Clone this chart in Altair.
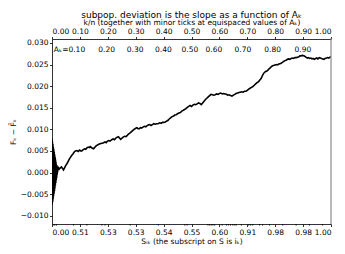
import altair as alt
import pandas as pd

# ---- data ----
kn = [0.000, 0.0008, 0.0016, 0.0024, 0.0032, 0.004, 0.0048, 0.0056, 0.0064, 0.0072,
      0.008, 0.0088, 0.0096, 0.0104, 0.0112, 0.012, 0.0128, 0.0136, 0.0144, 0.0152,
      0.016, 0.0168, 0.0176, 0.0184, 0.0192, 0.020,
      0.022, 0.026, 0.030, 0.034, 0.038, 0.041, 0.045, 0.049, 0.054, 0.058,
      0.062, 0.066, 0.071, 0.075, 0.079, 0.084, 0.089, 0.094, 0.099, 0.103,
      0.107, 0.112, 0.117, 0.121, 0.125, 0.130, 0.134, 0.137, 0.141, 0.145,
      0.149, 0.153, 0.157, 0.161, 0.166, 0.170, 0.175, 0.180, 0.185, 0.190,
      0.194, 0.198, 0.203, 0.208, 0.214, 0.219, 0.224, 0.229, 0.234, 0.238,
      0.242, 0.246, 0.250, 0.255, 0.260, 0.265, 0.270, 0.274, 0.279, 0.284,
      0.289, 0.294, 0.299, 0.304, 0.308, 0.312, 0.317, 0.321, 0.326, 0.331,
      0.336, 0.340, 0.345, 0.350, 0.355, 0.360, 0.365, 0.370, 0.375, 0.380,
      0.386, 0.391, 0.396, 0.401, 0.406, 0.411, 0.416, 0.420, 0.424, 0.428,
      0.432, 0.436, 0.440, 0.445, 0.450, 0.455, 0.460, 0.465, 0.470, 0.475,
      0.480, 0.485, 0.490, 0.495, 0.500, 0.505, 0.510, 0.515, 0.520, 0.525,
      0.530, 0.535, 0.540, 0.545, 0.550, 0.555, 0.560, 0.565, 0.570, 0.575,
      0.580, 0.585, 0.590, 0.595, 0.600, 0.605, 0.610, 0.615, 0.620, 0.625,
      0.630, 0.635, 0.640, 0.645, 0.650, 0.655, 0.660, 0.665, 0.670, 0.675,
      0.680, 0.685, 0.690, 0.695, 0.700, 0.705, 0.710, 0.715, 0.720, 0.725,
      0.730, 0.735, 0.740, 0.745, 0.750, 0.754, 0.758, 0.762, 0.766, 0.770,
      0.774, 0.778, 0.782, 0.786, 0.791, 0.796, 0.800, 0.804, 0.808, 0.813,
      0.817, 0.821, 0.826, 0.830, 0.835, 0.839, 0.844, 0.848, 0.853, 0.857,
      0.862, 0.866, 0.871, 0.875, 0.880, 0.885, 0.889, 0.893, 0.898, 0.902,
      0.906, 0.910, 0.915, 0.919, 0.923, 0.928, 0.932, 0.936, 0.940, 0.945,
      0.949, 0.953, 0.958, 0.962, 0.966, 0.971, 0.975, 0.979, 0.984, 0.988,
      0.992, 0.996, 1.000]
deviation = [0.0078, -0.0074, 0.0072, -0.0068, 0.0066, -0.0062, 0.0060, -0.0055, 0.0054, -0.0049,
             0.0048, -0.0043, 0.0042, -0.0037, 0.0036, -0.0030, 0.0030, -0.0024, 0.0024, -0.0018,
             0.0018, -0.0012, 0.0013, -0.0005, 0.0007, 0.0001,
             0.0012, 0.0008, 0.0011, 0.0013, 0.0009, 0.0006, 0.0011, 0.0016, 0.0021, 0.0026,
             0.0031, 0.0035, 0.0040, 0.0043, 0.0047, 0.0050, 0.0051, 0.0049, 0.0052, 0.0050,
             0.0050, 0.0053, 0.0055, 0.0054, 0.0057, 0.0059, 0.0058, 0.0060, 0.0058, 0.0056,
             0.0055, 0.0058, 0.0061, 0.0063, 0.0065, 0.0066, 0.0067, 0.0068, 0.0069, 0.0071,
             0.0069, 0.0072, 0.0074, 0.0073, 0.0076, 0.0078, 0.0076, 0.0080, 0.0082, 0.0083,
             0.0080, 0.0077, 0.0079, 0.0082, 0.0084, 0.0083, 0.0086, 0.0089, 0.0091, 0.0094,
             0.0097, 0.0100, 0.0102, 0.0104, 0.0102, 0.0101, 0.0104, 0.0103, 0.0105, 0.0107,
             0.0106, 0.0108, 0.0110, 0.0111, 0.0109, 0.0111, 0.0113, 0.0112, 0.0113, 0.0113,
             0.0115, 0.0114, 0.0116, 0.0116, 0.0117, 0.0119, 0.0121, 0.0124, 0.0126, 0.0128,
             0.0130, 0.0131, 0.0133, 0.0134, 0.0136, 0.0138, 0.0139, 0.0142, 0.0144, 0.0146,
             0.0148, 0.0151, 0.0153, 0.0155, 0.0153, 0.0156, 0.0158, 0.0157, 0.0159, 0.0161,
             0.0160, 0.0157, 0.0161, 0.0165, 0.0169, 0.0172, 0.0175, 0.0178, 0.0181, 0.0180,
             0.0179, 0.0180, 0.0182, 0.0181, 0.0183, 0.0184, 0.0182, 0.0183, 0.0182, 0.0181,
             0.0179, 0.0180, 0.0178, 0.0177, 0.0179, 0.0181, 0.0183, 0.0184, 0.0185, 0.0186,
             0.0187, 0.0186, 0.0188, 0.0188, 0.0190, 0.0193, 0.0195, 0.0197, 0.0199, 0.0202,
             0.0205, 0.0208, 0.0210, 0.0214, 0.0218, 0.0224, 0.0229, 0.0232, 0.0234, 0.0235,
             0.0237, 0.0240, 0.0242, 0.0245, 0.0247, 0.0248, 0.0249, 0.0250, 0.0249, 0.0251,
             0.0252, 0.0253, 0.0255, 0.0257, 0.0259, 0.0260, 0.0262, 0.0263, 0.0262, 0.0264,
             0.0265, 0.0264, 0.0266, 0.0266, 0.0267, 0.0268, 0.0270, 0.0270, 0.0271, 0.0270,
             0.0269, 0.0267, 0.0265, 0.0266, 0.0264, 0.0265, 0.0263, 0.0264, 0.0262, 0.0264,
             0.0265, 0.0263, 0.0266, 0.0265, 0.0264, 0.0263, 0.0262, 0.0264, 0.0265, 0.0266,
             0.0265, 0.0267, 0.0268]

major_ticks = [0.0, 0.1, 0.2, 0.3, 0.4, 0.5, 0.6, 0.7, 0.8, 0.9, 1.0]
bottom_labels = ["0.00", "0.51", "0.53", "0.53", "0.54", "0.55", "0.60", "0.91", "0.98", "0.98", "1.00"]
minor_ticks = [0.004, 0.010, 0.016, 0.077, 0.125, 0.179, 0.190, 0.280, 0.381, 0.476, 0.484,
               0.559, 0.565, 0.571, 0.577, 0.583, 0.610, 0.625, 0.632, 0.640, 0.648, 0.655,
               0.660, 0.679, 0.705, 0.712, 0.720, 0.744, 0.755, 0.780, 0.827, 0.875, 0.923, 0.970]
y_ticks = [-0.010, -0.005, 0.000, 0.005, 0.010, 0.015, 0.020, 0.025, 0.030]
ak_pos = [0.196, 0.298, 0.399, 0.494, 0.580, 0.684, 0.791, 0.899]
ak_text = ["0.20", "0.30", "0.40", "0.50", "0.60", "0.70", "0.80", "0.90"]
ak_first_pos = [0.083]
ak_first_text = ["Aₖ=0.10"]

W, H = 279, 185
FONT = "DejaVu Sans"
FS = 7.5

df = pd.DataFrame({"x": kn, "y": deviation})
xs = alt.Scale(domain=[0, 1], nice=False, zero=False)
ys = alt.Scale(domain=[-0.0119, 0.0309], nice=False, zero=False)

label_expr = "[" + ",".join("'%s'" % l for l in bottom_labels) + "][round(datum.value*10)]"

line = alt.Chart(df).mark_line(color="black", strokeWidth=1.6, clip=True).encode(
    x=alt.X("x:Q", scale=xs, axis=alt.Axis(
        orient="bottom", values=major_ticks, labelExpr=label_expr,
        title="Sᵢₖ (the subscript on S is iₖ)", titlePadding=2)),
    y=alt.Y("y:Q", scale=ys, axis=alt.Axis(
        values=y_ticks, format=".3f", title="Fₖ − F̃ₖ",
        titleX=-35, titleY=H / 2, titleAngle=-90, titleBaseline="bottom")),
)

top = alt.Chart(pd.DataFrame({"x": major_ticks})).mark_point(opacity=0).encode(
    x=alt.X("x:Q", scale=xs, axis=alt.Axis(
        orient="top", values=major_ticks, format=".2f",
        title="k/n (together with minor ticks at equispaced values of Aₖ)",
        titlePadding=0.5)),
)

minor = alt.Chart(pd.DataFrame({"x": minor_ticks})).mark_rule(color="black", strokeWidth=0.8).encode(
    x=alt.X("x:Q", scale=xs, axis=None),
    y=alt.value(H),
    y2=alt.value(H + 1.6),
)

right = alt.Chart(pd.DataFrame({"x": [1.0]})).mark_rule(color="#8a8a8a", strokeWidth=1.2).encode(
    x=alt.X("x:Q", scale=xs, axis=None),
    y=alt.value(-1),
    y2=alt.value(H),
)

ak = alt.Chart(pd.DataFrame({"x": ak_pos, "t": ak_text})).mark_text(
    font=FONT, fontSize=FS, color="black", align="center", baseline="middle").encode(
    x=alt.X("x:Q", scale=xs, axis=None),
    y=alt.value(11),
    text="t:N",
)
ak1 = alt.Chart(pd.DataFrame({"x": ak_first_pos, "t": ak_first_text})).mark_text(
    font=FONT, fontSize=FS, color="black", align="right", baseline="middle", dx=10).encode(
    x=alt.X("x:Q", scale=xs, axis=None),
    y=alt.value(11),
    text="t:N",
)

chart = alt.layer(line, top, minor, right, ak, ak1).resolve_scale(x="independent").properties(
    width=W, height=H,
    title=alt.TitleParams("subpop. deviation is the slope as a function of Aₖ",
                          font=FONT, fontSize=9, fontWeight="normal", color="black",
                          anchor="middle", offset=-1),
    autosize=alt.AutoSizeParams(type="none"),
    padding={"left": 44, "top": 31, "right": 6, "bottom": 22},
).configure_view(stroke=None).configure_axis(
    labelFont=FONT, titleFont=FONT, labelFontSize=FS, titleFontSize=FS,
    titleFontWeight="normal", labelColor="black", titleColor="black",
    domainColor="black", tickColor="black", domainWidth=0.8, tickWidth=0.8,
    tickSize=2.5, labelPadding=1.5, grid=False,
)

chart.save("out.html", embed_options={"renderer": "svg", "actions": False})
